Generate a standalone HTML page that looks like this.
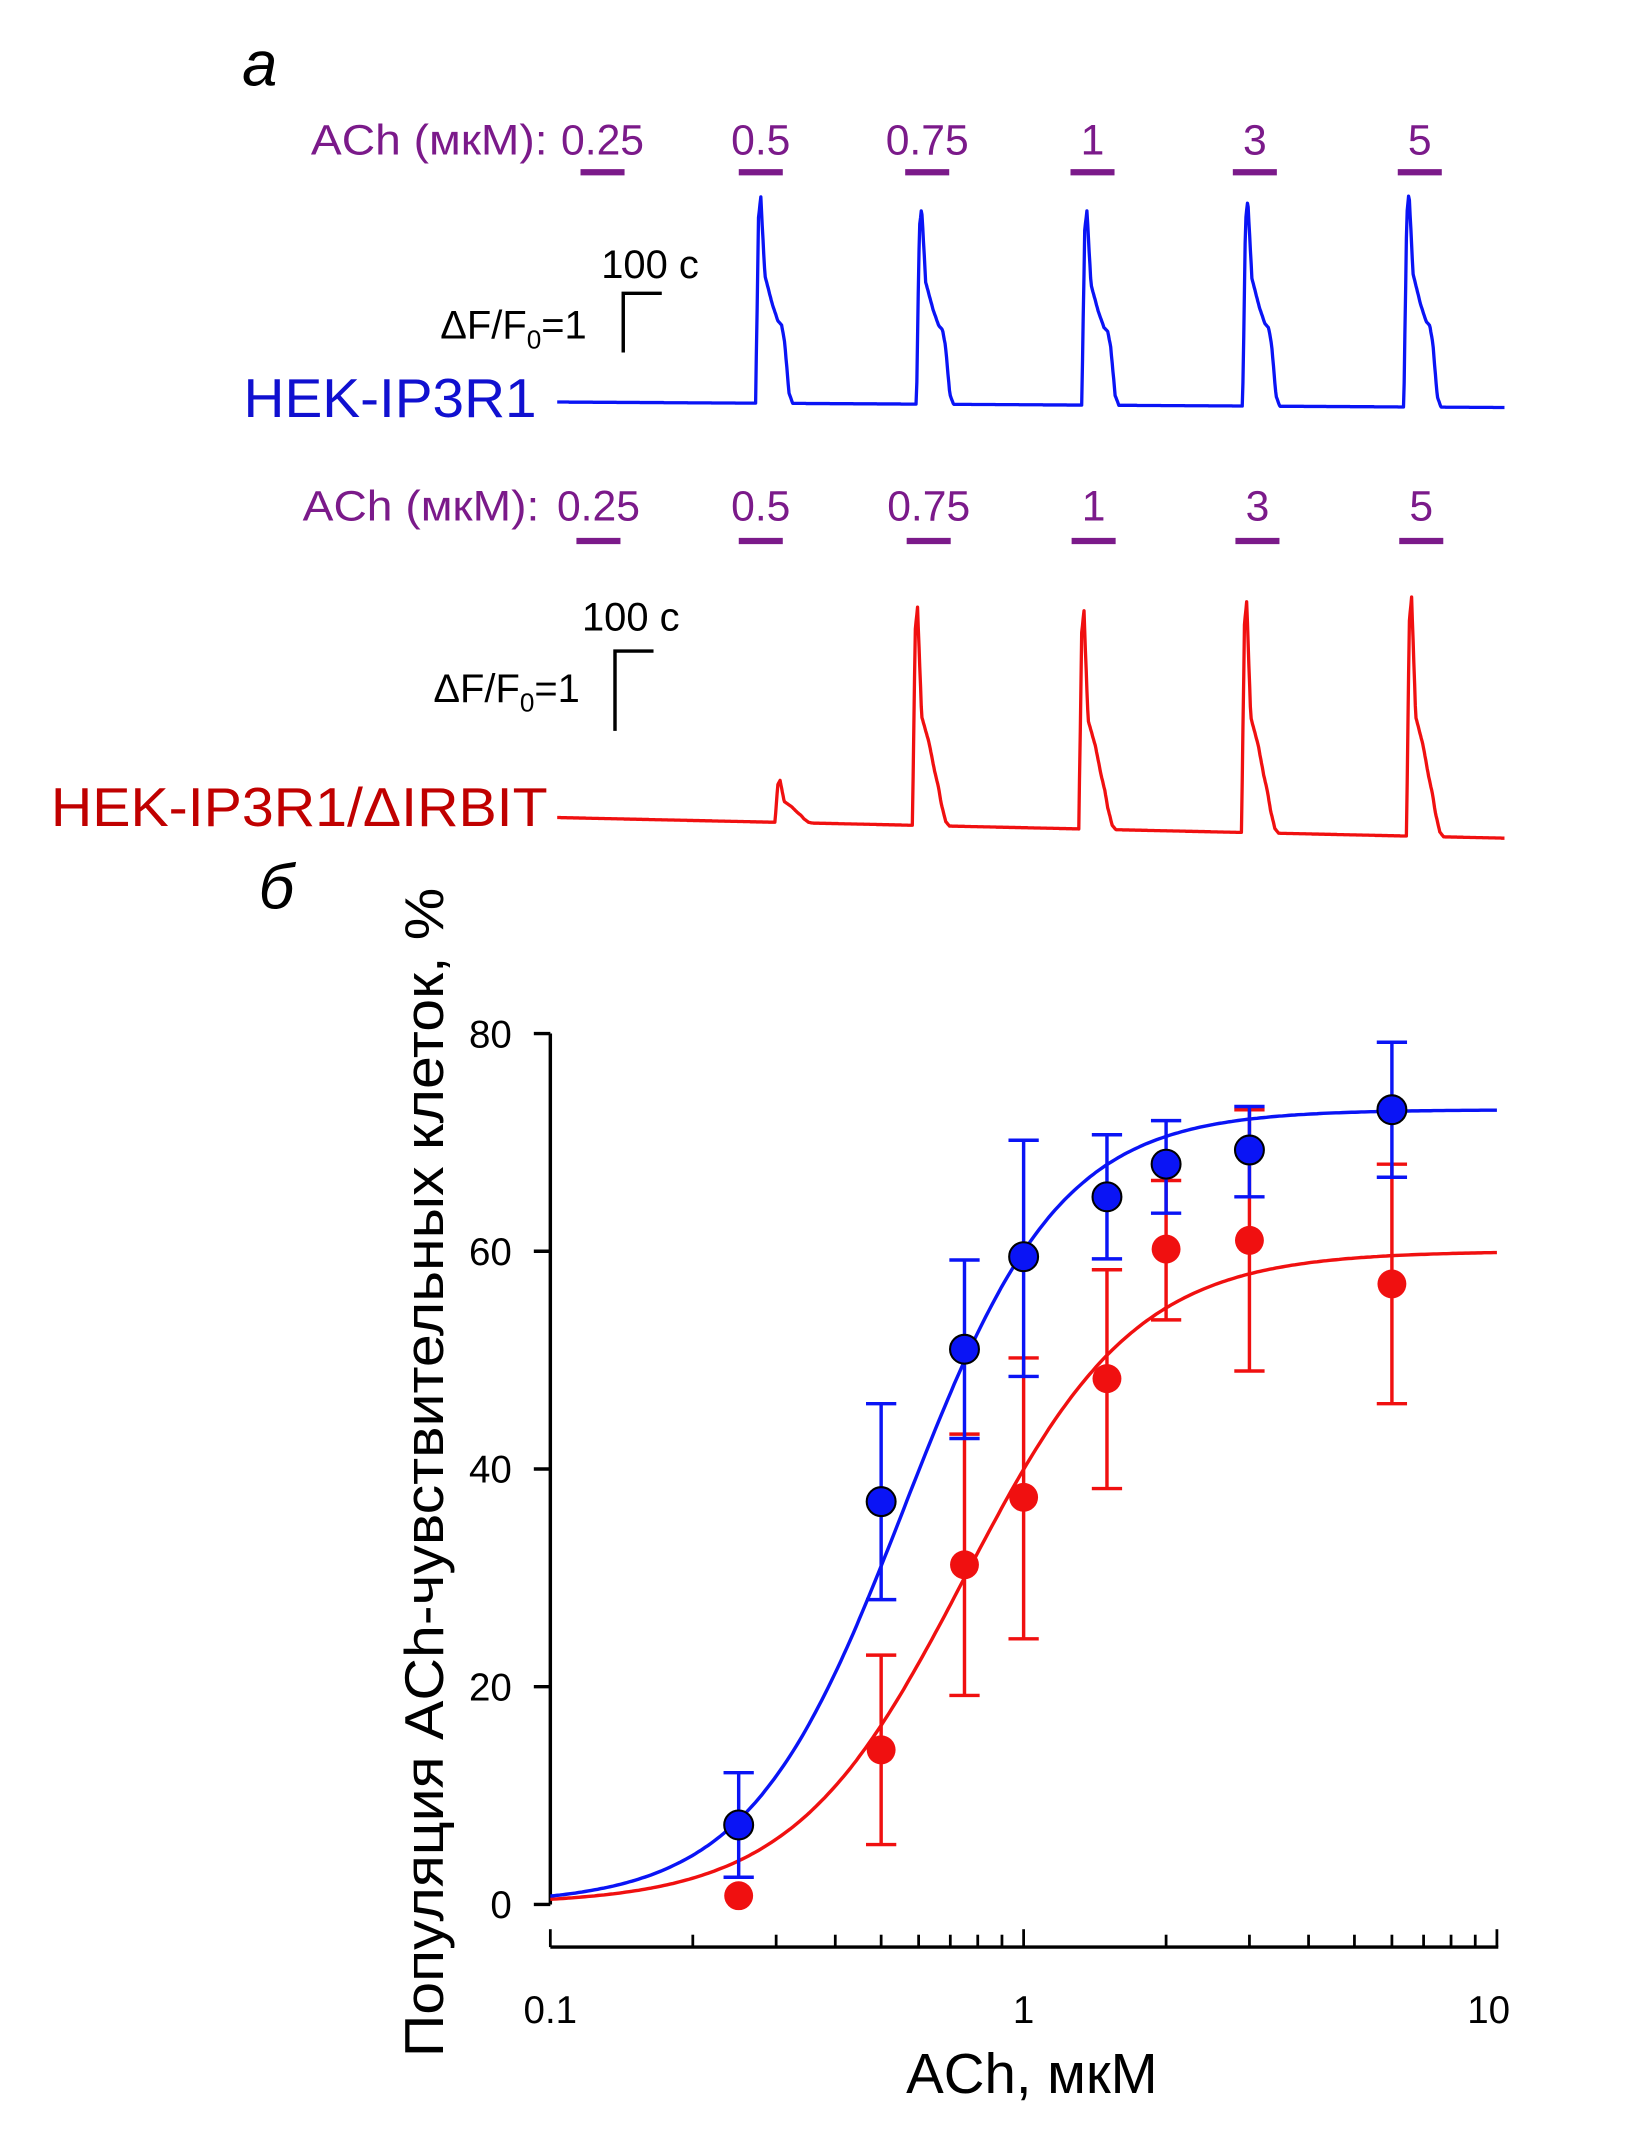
<!DOCTYPE html>
<html><head><meta charset="utf-8"><style>
html,body{margin:0;padding:0;background:#fff;}
svg{display:block;font-family:"Liberation Sans",sans-serif;}
</style></head><body>
<svg id="fig" width="1651" height="2151" viewBox="0 0 1200 1563" xmlns="http://www.w3.org/2000/svg">
<rect width="1200" height="1563" fill="#fff"/>
<text x="176" y="62" font-size="46" font-style="italic">а</text>
<text x="188" y="660" font-size="46" font-style="italic">б</text>
<g id="panelA"></g>
<g id="panelB"></g>
</svg>
<script>
// ---------- Panel A data ----------
const doseLabels = ["0.25","0.5","0.75","1","3","5"];
const blueOnsets = [534, 967, 1412, 1845, 2279];     // s
const blueAmps = [3.57, 3.40, 3.36, 3.57, 3.71];     // ΔF/F0
const redOnsets = [586, 956, 1404, 1842, 2286];
const redAmps = [0.5, 2.6, 2.6, 2.75, 2.85];
const blueStimCenters = [122, 548, 996, 1441, 1878, 2322];
const redStimCenters = [111, 548, 1000, 1444, 1885, 2326];
// Peak shape key points (time after onset s, fraction of amplitude)
const shapeT = [0, 8, 14, 25, 45, 60, 70, 78, 90, 100];
const shapeV = [0, 0.9, 1.0, 0.62, 0.48, 0.4, 0.38, 0.3, 0.05, 0];
const redShapeV = [0, 0.9, 1.0, 0.5, 0.38, 0.25, 0.18, 0.1, 0.02, 0];

// ---------- Panel B data ----------
const conc = [0.25, 0.5, 0.75, 1, 1.5, 2, 3, 6];
const blueMean = [7.3, 37, 51, 59.5, 65, 68, 69.3, 73];
const blueUp = [12.1, 46, 59.2, 70.2, 70.7, 72, 73.3, 79.2];
const blueLo = [2.5, 28, 42.8, 48.5, 59.3, 63.5, 65, 66.8];
const redMean = [0.8, 14.2, 31.2, 37.4, 48.3, 60.2, 61, 57];
const redUp = [0.8, 22.9, 43.2, 50.2, 58.3, 66.5, 73, 68];
const redLo = [0.8, 5.5, 19.2, 24.4, 38.2, 53.7, 49, 46];
const blueFit = {max: 73, ec50: 0.56, n: 2.64};
const redFit = {max: 60, ec50: 0.75, n: 2.4};
const yTicks = [0, 20, 40, 60, 80];
const xTickLabels = ["0.1", "1", "10"];

const NS = "http://www.w3.org/2000/svg";
function mk(tag, attrs, parent, text) {
  const e = document.createElementNS(NS, tag);
  for (const k in attrs) e.setAttribute(k, attrs[k]);
  if (text !== undefined) e.textContent = text;
  parent.appendChild(e);
  return e;
}
const A = document.getElementById('panelA');
const B = document.getElementById('panelB');
const PURPLE = "#7b1a8a";

const tx = t => 405 + t * 0.27;
function shapeAt(dt, sv) {
  if (dt < 0 || dt >= shapeT[shapeT.length - 1]) return 0;
  for (let i = 0; i < shapeT.length - 1; i++) {
    if (dt >= shapeT[i] && dt < shapeT[i + 1]) {
      const f = (dt - shapeT[i]) / (shapeT[i + 1] - shapeT[i]);
      return sv[i] + f * (sv[i + 1] - sv[i]);
    }
  }
  return 0;
}
function drawTrace(onsets, amps, base0, base1, pxPerUnit, color, sv, name) {
  let d = "";
  for (let t = 0; t <= 2550; t += 2) {
    let v = 0;
    for (let k = 0; k < onsets.length; k++) v += amps[k] * shapeAt(t - onsets[k], sv);
    const base = base0 + (base1 - base0) * t / 2550;
    const y = base - v * pxPerUnit;
    d += (t === 0 ? "M" : "L") + tx(t).toFixed(1) + "," + y.toFixed(1);
  }
  const p = mk('path', {d: d, fill: "none", stroke: color, "stroke-width": 2.4, "stroke-linejoin": "round"}, A);
  
  
}
function drawStim(centers, yBar, yText, startX, rowName) {
  const lab = mk('text', {x: startX, y: yText, "font-size": 31, fill: PURPLE, textLength: 172, lengthAdjust: "spacingAndGlyphs"}, A, "ACh (мкМ):");
  
  
  centers.forEach((c, i) => {
    const x = tx(c);
    const r = mk('line', {x1: x - 16, x2: x + 16, y1: yBar, y2: yBar, stroke: PURPLE, "stroke-width": 4.5}, A);
    
    
    const t = mk('text', {x: x, y: yText, "font-size": 31, fill: PURPLE, "text-anchor": "middle"}, A, doseLabels[i]);
    
    
  });
}
function scaleBar(x, yTop, yBot, tX, tY, dX, dY) {
  const g = mk('g', {}, A);
  
  
  mk('path', {d: `M${x},${yBot} L${x},${yTop} L${x + 28},${yTop}`, fill: "none", stroke: "#000", "stroke-width": 2.5}, g);
  mk('text', {x: tX, y: tY, "font-size": 29}, g, "100 с");
  const t = mk('text', {x: dX, y: dY, "font-size": 29}, g);
  t.innerHTML = 'ΔF/F<tspan font-size="19" dy="7">0</tspan><tspan dy="-7">=1</tspan>';
}

drawStim(blueStimCenters, 125, 112, 226, 'stim-row-top');
drawStim(redStimCenters, 393, 378, 220, 'stim-row-bottom');
scaleBar(453, 213, 256, 437, 202, 320, 246);
scaleBar(447, 473, 531, 423, 458, 315, 510);
drawTrace(blueOnsets, blueAmps, 292, 296, 42, "#0a14f5", shapeV, 'trace-hek-ip3r1');
drawTrace(redOnsets, redAmps, 594, 609, 61, "#f01010", redShapeV, 'trace-hek-ip3r1-dirbit');
let l1 = mk('text', {x: 177, y: 303, "font-size": 40, fill: "#1010d0", textLength: 213, lengthAdjust: "spacingAndGlyphs"}, A, "HEK-IP3R1");
 
let l2 = mk('text', {x: 37, y: 600, "font-size": 40, fill: "#c00000", textLength: 361, lengthAdjust: "spacingAndGlyphs"}, A, "HEK-IP3R1/ΔIRBIT");
 

// ---- Panel B ----
const X = v => 400 + (Math.log10(v) + 1) * 344;
const Y = v => 1384 - v * (633 / 80);
let ya = mk('line', {x1: 400, x2: 400, y1: Y(80), y2: Y(0), stroke: "#000", "stroke-width": 2.5}, B);
 
yTicks.forEach(v => {
  mk('line', {x1: 388, x2: 400, y1: Y(v), y2: Y(v), stroke: "#000", "stroke-width": 2.5}, B);
  const t = mk('text', {x: 372, y: Y(v) + 10, "font-size": 28, "text-anchor": "end"}, B, String(v));
  
  
});
let xa = mk('line', {x1: 400, x2: 1089, y1: 1415, y2: 1415, stroke: "#000", "stroke-width": 2.5}, B);
 
for (let dec = 0.1; dec < 10; dec *= 10) {
  for (let m = 1; m < 10; m++) {
    const v = dec * m;
    const len = m === 1 ? 13 : 9;
    mk('line', {x1: X(v), x2: X(v), y1: 1415, y2: 1415 - len, stroke: "#000", "stroke-width": 2}, B);
  }
}
mk('line', {x1: X(10), x2: X(10), y1: 1415, y2: 1402, stroke: "#000", "stroke-width": 2}, B);
xTickLabels.forEach(s => {
  const t = mk('text', {x: X(parseFloat(s)) - (s === "10" ? 6 : 0), y: 1470, "font-size": 28, "text-anchor": "middle"}, B, s);
  
  
});
let xt = mk('text', {x: 750, y: 1521, "font-size": 41, "text-anchor": "middle"}, B, "ACh, мкМ");
 
let yt = mk('text', {x: 0, y: 0, "font-size": 40, "text-anchor": "middle", transform: "translate(322,1070) rotate(-90)", "xml:space": "preserve", textLength: 850, lengthAdjust: "spacingAndGlyphs"}, B, "Популяция  ACh-чувствительных клеток, %");
 

function fitCurve(f, color, name) {
  let d = "";
  for (let i = 0; i <= 300; i++) {
    const lx = -1 + 2 * i / 300, c = Math.pow(10, lx);
    const v = f.max / (1 + Math.pow(f.ec50 / c, f.n));
    d += (i ? "L" : "M") + X(c).toFixed(1) + "," + Y(v).toFixed(1);
  }
  const p = mk('path', {d: d, fill: "none", stroke: color, "stroke-width": 2.5}, B);
  
  
}
function series(mean, up, lo, color, outline, name) {
  conc.forEach((c, i) => {
    const x = X(c);
    const g = mk('g', {}, B);
    
    
    if (up[i] !== lo[i]) {
      mk('line', {x1: x, x2: x, y1: Y(up[i]), y2: Y(lo[i]), stroke: color, "stroke-width": 2.5}, g);
      mk('line', {x1: x - 11, x2: x + 11, y1: Y(up[i]), y2: Y(up[i]), stroke: color, "stroke-width": 2.5}, g);
      mk('line', {x1: x - 11, x2: x + 11, y1: Y(lo[i]), y2: Y(lo[i]), stroke: color, "stroke-width": 2.5}, g);
    }
    mk('circle', {cx: x, cy: Y(mean[i]), r: 10.5, fill: color, stroke: outline ? "#000" : "none", "stroke-width": 1.5}, g);
  });
}
fitCurve(redFit, "#f01010", 'fit-curve-dirbit');
fitCurve(blueFit, "#0a14f5", 'fit-curve-ip3r1');
series(redMean, redUp, redLo, "#f01010", false, 'dirbit');
series(blueMean, blueUp, blueLo, "#0a14f5", true, 'ip3r1');
</script>
</body></html>
